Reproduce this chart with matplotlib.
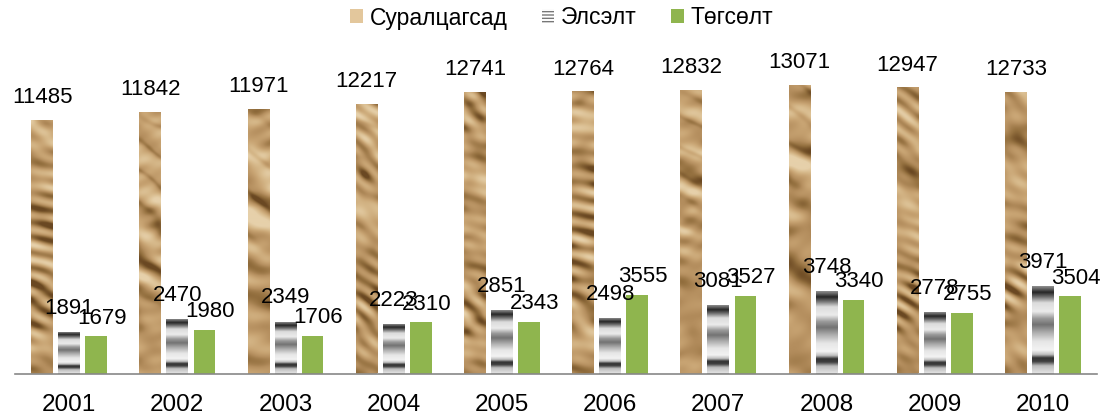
import numpy as np
import matplotlib
matplotlib.use("Agg")
import matplotlib.pyplot as plt
from matplotlib.patches import Patch
from matplotlib.colors import LinearSegmentedColormap

plt.rcParams['font.family'] = ['Liberation Sans', 'DejaVu Sans']

years = ['2001', '2002', '2003', '2004', '2005', '2006', '2007', '2008', '2009', '2010']
students = [11485, 11842, 11971, 12217, 12741, 12764, 12832, 13071, 12947, 12733]
enrolled = [1891, 2470, 2349, 2223, 2851, 2498, 3081, 3748, 2778, 3971]
graduated = [1679, 1980, 1706, 2310, 2343, 3555, 3527, 3340, 2755, 3504]
series_names = ['Суралцагсад', 'Элсэлт', 'Төгсөлт']

W, H = 1117, 416
fig = plt.figure(figsize=(W / 100, H / 100), dpi=100)
ax = fig.add_axes([15 / W, (H - 373.5) / H, (1097 - 15) / W, 331.5 / H])

x = np.arange(len(years))
bw = 0.2
off = 0.25

bars_s = ax.bar(x - off, students, bw, color='#C4A070', linewidth=0)
bars_e = ax.bar(x, enrolled, bw, color='#BBBBBB', linewidth=0)
bars_g = ax.bar(x + off, graduated, bw, color='#8FB54E', linewidth=0)

# crumpled-paper texture (deterministic embossed pattern built from sine waves)
paper = LinearSegmentedColormap.from_list(
    'paper', ['#6A4822', '#94703F', '#B48E5E', '#C8A473', '#D8BB8D', '#E6D0AA'])
ny, nx = 300, 22
yy, xx = np.mgrid[0:ny, 0:nx].astype(float)
phi = (np.sqrt(5) - 1) / 2


def field(seed, scale, n=16):
    f = np.zeros_like(xx)
    for k in range(n):
        t = (seed + k) * phi
        ang = np.pi / 2 + (((t * 5.7) % 1) - 0.5) * 2.2
        fr = scale * (0.5 + ((t * 7.3) % 1))
        f += np.sin(fr * (np.cos(ang) * xx + np.sin(ang) * yy) + 11.0 * ((t * 3.1) % 1))
    return f / np.sqrt(n)


for i, b in enumerate(bars_s):
    F = field(i * 19 + 1, 0.12) + 0.5 * field(i * 19 + 50, 0.3)
    gy, gx = np.gradient(F)
    emb = gy * 0.8 + gx * 0.6
    emb = emb / (np.abs(emb).max() + 1e-9)
    ridge = np.exp(-(field(i * 19 + 90, 0.09) ** 2) * 5)
    v = 0.62 + 0.55 * emb - 0.25 * ridge + 0.08 * field(i * 19 + 120, 0.03)
    v = np.clip(v, 0, 1)
    bx = b.get_x()
    im = ax.imshow(v, cmap=paper, vmin=0, vmax=1, origin='lower', aspect='auto', interpolation='bilinear',
                   extent=[bx, bx + b.get_width(), 0, b.get_height()], zorder=2)
    im.set_clip_path(b)

# striped gray gradient for enrolment bars
pos = [0.0, 0.08, 0.13, 0.17, 0.21, 0.26, 0.36, 0.46, 0.55, 0.62, 0.70, 0.80, 0.87, 0.92, 0.96, 1.0]
val = [0.88, 0.74, 0.25, 0.2, 0.75, 0.95, 0.9, 0.68, 0.45, 0.6, 0.92, 0.86, 0.42, 0.15, 0.4, 0.62]
prof = np.interp(np.linspace(0, 1, 200), pos, val)
stripe_img = np.tile(prof[:, None], (1, 10))
for b in bars_e:
    bx = b.get_x()
    im = ax.imshow(stripe_img, cmap='gray', vmin=0, vmax=1, origin='lower', aspect='auto',
                   interpolation='bilinear', extent=[bx, bx + b.get_width(), 0, b.get_height()], zorder=2)
    im.set_clip_path(b)

ax.set_xlim(-0.5, len(years) - 0.5)
ax.set_ylim(0, 15000)

fs = 16
for xi, v in zip(x, students):
    ax.annotate(str(v), (xi - off, v), xytext=(0, 16), textcoords='offset points',
                ha='center', va='center', fontsize=fs, zorder=5)
for xi, v in zip(x, enrolled):
    ax.annotate(str(v), (xi, v), xytext=(0, 17), textcoords='offset points',
                ha='center', va='center', fontsize=fs, zorder=5)
for xi, v in zip(x, graduated):
    ax.annotate(str(v), (xi + off, v), xytext=(4, 13), textcoords='offset points',
                ha='center', va='center', fontsize=fs, zorder=5)

for s in ['top', 'right', 'left']:
    ax.spines[s].set_visible(False)
ax.spines['bottom'].set_color('#888888')
ax.spines['bottom'].set_linewidth(1.2)
ax.set_yticks([])
ax.set_xticks(x)
ax.set_xticklabels(years, fontsize=17.5)
ax.tick_params(axis='x', length=0, pad=15)

handles = [Patch(facecolor='#E3C79C', edgecolor='none'),
           Patch(facecolor='white', edgecolor='#777777', hatch='-----', linewidth=0),
           Patch(facecolor='#8FB54E', edgecolor='none')]
fig.legend(handles, series_names, loc='center', bbox_to_anchor=(0.503, 1 - 18 / H), ncol=3,
           frameon=False, fontsize=16.5, handlelength=0.55, handleheight=0.55, handletextpad=0.3,
           columnspacing=1.5)

fig.savefig('out.png', dpi=100)
